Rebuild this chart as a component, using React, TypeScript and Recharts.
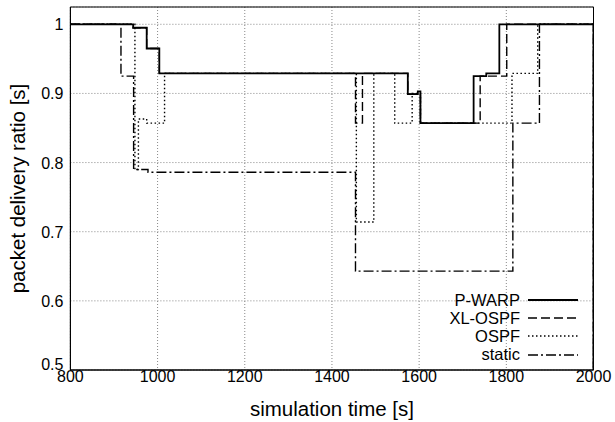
import { LineChart, Line, XAxis, YAxis, CartesianGrid, ReferenceArea } from 'recharts'

const X_TICKS = [800, 1000, 1200, 1400, 1600, 1800, 2000]
const Y_TICKS = [0.5, 0.6, 0.7, 0.8, 0.9, 1]

// step points: value holds from t until the next point
const pwarp = [
  { t: 800, v: 1 }, { t: 944, v: 0.995 }, { t: 975, v: 0.965 }, { t: 1004, v: 0.929 },
  { t: 1574, v: 0.899 }, { t: 1597, v: 0.903 }, { t: 1603, v: 0.857 }, { t: 1725, v: 0.925 },
  { t: 1754, v: 0.929 }, { t: 1784, v: 1 }, { t: 2000, v: 1 }, { t: 2000, v: 0.5 },
]
const xlospf = [
  { t: 800, v: 1 }, { t: 944, v: 0.995 }, { t: 975, v: 0.965 }, { t: 1004, v: 0.929 },
  { t: 1454, v: 0.857 }, { t: 1470, v: 0.929 }, { t: 1574, v: 0.899 }, { t: 1603, v: 0.857 },
  { t: 1740, v: 0.925 }, { t: 1801, v: 1 }, { t: 2000, v: 1 }, { t: 2000, v: 0.5 },
]
const ospf = [
  { t: 800, v: 1 }, { t: 948, v: 0.79 }, { t: 956, v: 0.863 }, { t: 975, v: 0.857 },
  { t: 1016, v: 0.929 }, { t: 1456, v: 0.714 }, { t: 1496, v: 0.929 }, { t: 1544, v: 0.857 },
  { t: 1584, v: 0.9 }, { t: 1603, v: 0.857 }, { t: 1813, v: 0.929 }, { t: 1872, v: 1 },
  { t: 2000, v: 1 }, { t: 2000, v: 0.5 },
]
const staticRoute = [
  { t: 800, v: 1 }, { t: 916, v: 0.925 }, { t: 945, v: 0.79 }, { t: 978, v: 0.786 },
  { t: 1454, v: 0.643 }, { t: 1815, v: 0.857 }, { t: 1876, v: 1 }, { t: 2000, v: 1 },
  { t: 2000, v: 0.5 },
]

const SERIES = [
  { name: 'P-WARP', data: pwarp, dash: undefined, width: 1.8 },
  { name: 'XL-OSPF', data: xlospf, dash: '9 4', width: 1.4 },
  { name: 'OSPF', data: ospf, dash: '1.5 2.5', width: 1.4 },
  { name: 'static', data: staticRoute, dash: '10 3 2 3', width: 1.4 },
]

const FONT = '"Liberation Sans", Arial, Helvetica, sans-serif'
const TICK = { fill: '#000', fontSize: 16, fontFamily: FONT }

function YTick({ x, y, payload }: any) {
  const v = payload.value as number
  return (
    <text x={x} y={y} dy={v === 0.5 ? 0 : 6} textAnchor="end" fill="#000" fontSize={16} fontFamily={FONT}>
      {v === 1 ? '1' : v.toFixed(1)}
    </text>
  )
}

function LegendBox() {
  return (
    <div style={{ position: 'absolute', left: 380, top: 291, width: 198, fontFamily: FONT, fontSize: 16.5, color: '#000' }}>
      {SERIES.map(s => (
        <div key={s.name} style={{ display: 'flex', justifyContent: 'flex-end', alignItems: 'center', height: 18.2 }}>
          <span>{s.name}</span>
          <svg width={50} height={10} style={{ marginLeft: 8 }}>
            <line x1={0} y1={5} x2={50} y2={5} stroke="#000" strokeWidth={s.width} strokeDasharray={s.dash} />
          </svg>
        </div>
      ))}
    </div>
  )
}

export default function App() {
  return (
    <div style={{ position: 'relative', width: 615, height: 422, background: '#fff' }}>
      <style>{'body{margin:0}'}</style>
      <LineChart width={615} height={422} margin={{ top: 7, right: 21.5, bottom: 0, left: 0 }}>
        <CartesianGrid stroke="#888" strokeDasharray="1 2" />
        <XAxis
          dataKey="t" type="number" domain={[800, 2000]} ticks={X_TICKS} allowDataOverflow
          height={52} tickSize={0} tickMargin={1} tickLine={false} axisLine={{ stroke: '#000' }} tick={TICK}
          label={{ value: 'simulation time [s]', position: 'insideBottom', offset: 6, fill: '#000', fontSize: 20.5, fontFamily: FONT }}
        />
        <YAxis
          type="number" domain={[0.5, 1.025]} ticks={Y_TICKS} allowDataOverflow
          width={70.4} tickSize={0} tickMargin={7} tickLine={false} axisLine={{ stroke: '#000' }} tick={<YTick />}
          label={{ value: 'packet delivery ratio [s]', angle: -90, position: 'insideLeft', offset: 18, fill: '#000', fontSize: 20.5, fontFamily: FONT, style: { textAnchor: 'middle' } }}
        />
        <ReferenceArea x1={800} x2={2000} y1={0.5} y2={1.025} fill="none" stroke="#000" strokeWidth={1} />
        {SERIES.map(s => (
          <Line
            key={s.name} name={s.name} data={s.data} dataKey="v" type="stepAfter"
            stroke="#000" strokeWidth={s.width} strokeDasharray={s.dash} dot={false} activeDot={false}
            isAnimationActive={false}
          />
        ))}
      </LineChart>
      <LegendBox />
    </div>
  )
}
